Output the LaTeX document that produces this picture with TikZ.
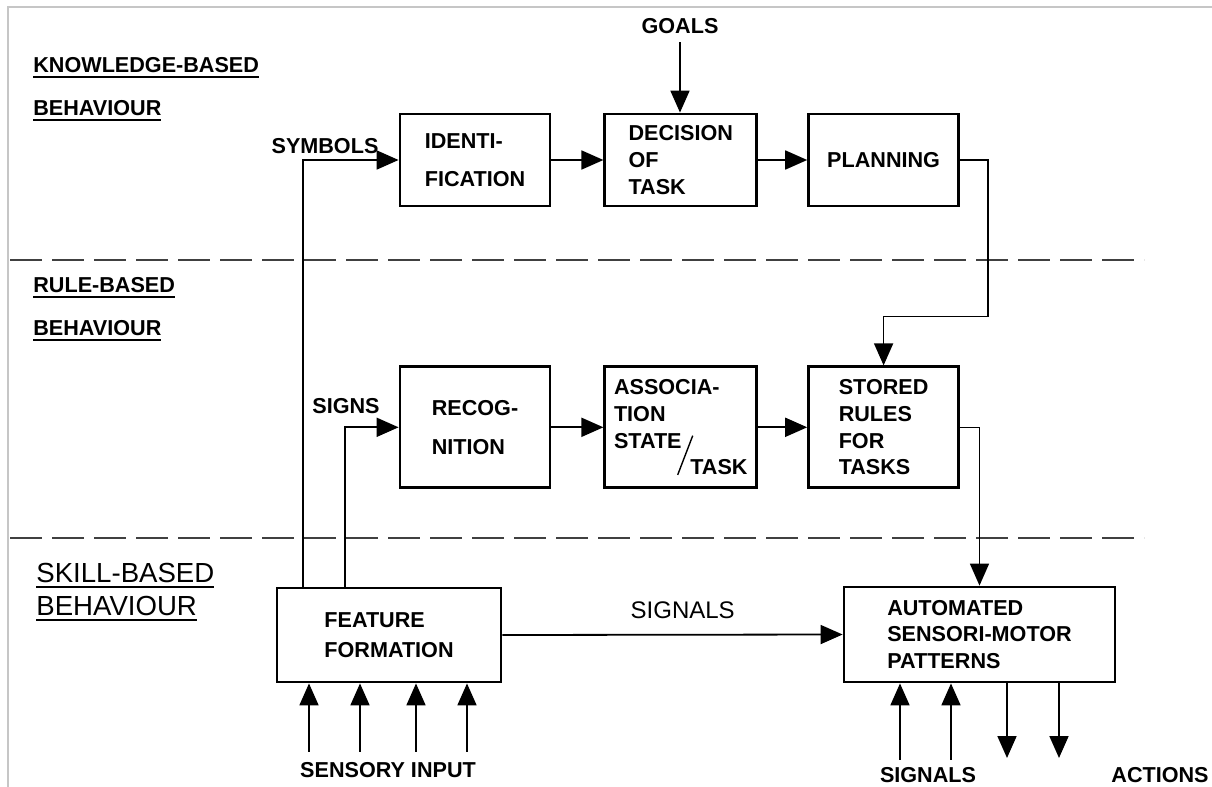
\documentclass[tikz,border=0pt]{standalone}
\usepackage{fontspec}
\setmainfont{Liberation Sans}
\usepackage{graphicx}
\usetikzlibrary{arrows.meta, positioning}
\tikzset{
    procbox/.style={rectangle, draw=black, line width=1.4pt, minimum width=75pt, minimum height=46pt,
        align=left, inner sep=2pt, font=\bfseries\fontsize{10.8}{13.3}\selectfont},
    flowarrow/.style={-{Triangle[length=11pt, width=9.5pt]}, line width=0.9pt},
    levelline/.style={line width=1pt, dash pattern=on 16pt off 5pt, black!75},
    levellabel/.style={anchor=base west, inner sep=0pt, font=\bfseries\fontsize{10.8}{13}\selectfont},
    flowlabel/.style={inner sep=0pt, font=\bfseries\fontsize{10.8}{13}\selectfont},
}
\newcommand{\ulabel}[1]{\setbox0\hbox{#1}\rlap{\rule[-3pt]{\wd0}{0.9pt}}\box0}
\newcommand{\stateslash}{\smash{\rotatebox{-21}{\rule{0.7pt}{21pt}}}}

\begin{document}
\begin{tikzpicture}[x=0.5pt, y=-0.5pt, node distance=79pt and 25pt]
    \useasboundingbox (0,0) rectangle (1212,787);
    % page frame
    \draw[gray!45, line width=0.6pt] (8,787) -- (8,7) -- (1212,7);

    % level boundaries
    \draw[levelline] (10,260) -- (1144,260);
    \draw[levelline] (10,538) -- (1144,538);

    % level names
    \node[levellabel] (kbname) at (33,72) {\ulabel{KNOWLEDGE-BASED}};
    \node[levellabel] (kbbeh) at (33,115) {\ulabel{BEHAVIOUR}};
    \node[levellabel] (rbname) at (33,292) {\ulabel{RULE-BASED}};
    \node[levellabel] (rbbeh) at (33,335) {\ulabel{BEHAVIOUR}};
    \node[levellabel, font=\fontsize{13.8}{16}\selectfont] (sbname) at (36,582) {\ulabel{SKILL-BASED}};
    \node[levellabel, font=\fontsize{13.8}{16}\selectfont] (sbbeh) at (36,615) {\ulabel{BEHAVIOUR}};

    % knowledge-based row
    \node[procbox] (ident) at (475,160) {IDENTI-\\[6pt]FICATION};
    \node[procbox, minimum width=76pt, right=26pt of ident] (decision) {DECISION\\OF\\TASK};
    \node[procbox, right=24.5pt of decision] (planning) {PLANNING};

    % rule-based row
    \node[procbox, minimum height=60.5pt, below=79pt of ident] (recog) {RECOG-\\[6pt]NITION};
    \node[procbox, minimum width=76pt, minimum height=60.5pt, below=79pt of decision] (assoc)
        {ASSOCIA-\\TION\\STATE\\\hspace*{31.5pt}\stateslash\hspace{-1.5pt}TASK};
    \node[procbox, minimum height=60.5pt, below=79pt of planning] (stored) {STORED\\RULES\\FOR\\TASKS};

    % skill-based row
    \node[procbox, minimum width=112pt, minimum height=47pt] (feature) at (389,635) {FEATURE\\[1.5pt]FORMATION};
    \node[procbox, minimum width=135.5pt, minimum height=47.5pt] (auto) at (979.5,634.5)
        {AUTOMATED\\SENSORI-MOTOR\\PATTERNS};

    % free labels
    \node[flowlabel] (goals) at (680,26) {GOALS};
    \node[flowlabel] (symbols) at (325,146) {SYMBOLS};
    \node[flowlabel] (signs) at (346,406) {SIGNS};
    \node[flowlabel] (sensory) at (388,770) {SENSORY INPUT};
    \node[flowlabel] (sigin) at (928,775) {SIGNALS};
    \node[flowlabel] (actions) at (1160,775) {ACTIONS};
    \coordinate (actend) at (0,758);

    % connectors
    \draw[flowarrow, shorten <=4pt] (goals.south) -- (goals.south |- decision.north);
    \draw[flowarrow] (ident) -- (decision);
    \draw[flowarrow] (decision) -- (planning);
    \draw[flowarrow] (recog) -- (assoc);
    \draw[flowarrow] (assoc) -- (stored);
    \draw[flowarrow] ([xshift=13.5pt]feature.north west) |- (ident.west);
    \draw[flowarrow] ([xshift=34.5pt]feature.north west) |- (recog.west);
    \draw[flowarrow, line width=0.8pt] (planning.east) -- ++(28,0) |- ([yshift=24.5pt]stored.north) -- (stored.north);
    \draw[flowarrow, line width=0.8pt] (stored.east) -| (auto.north);
    \draw[flowarrow] (feature.east) -- node[pos=0.53, above=4pt, font=\fontsize{12}{14}\selectfont] (sigmid) {SIGNALS} (auto.west);

    \foreach \sx in {309,360,416,467}
        \draw[flowarrow, shorten <=5pt] (\sx,0 |- sensory.north) -- (\sx,0 |- feature.south);
    \foreach \sx in {900,951}
        \draw[flowarrow, shorten <=3.5pt] (\sx,0 |- sigin.north) -- (\sx,0 |- auto.south);
    \foreach \sx in {1007,1059}
        \draw[flowarrow] (\sx,0 |- auto.south) -- (\sx,0 |- actend);
\end{tikzpicture}
\end{document}
